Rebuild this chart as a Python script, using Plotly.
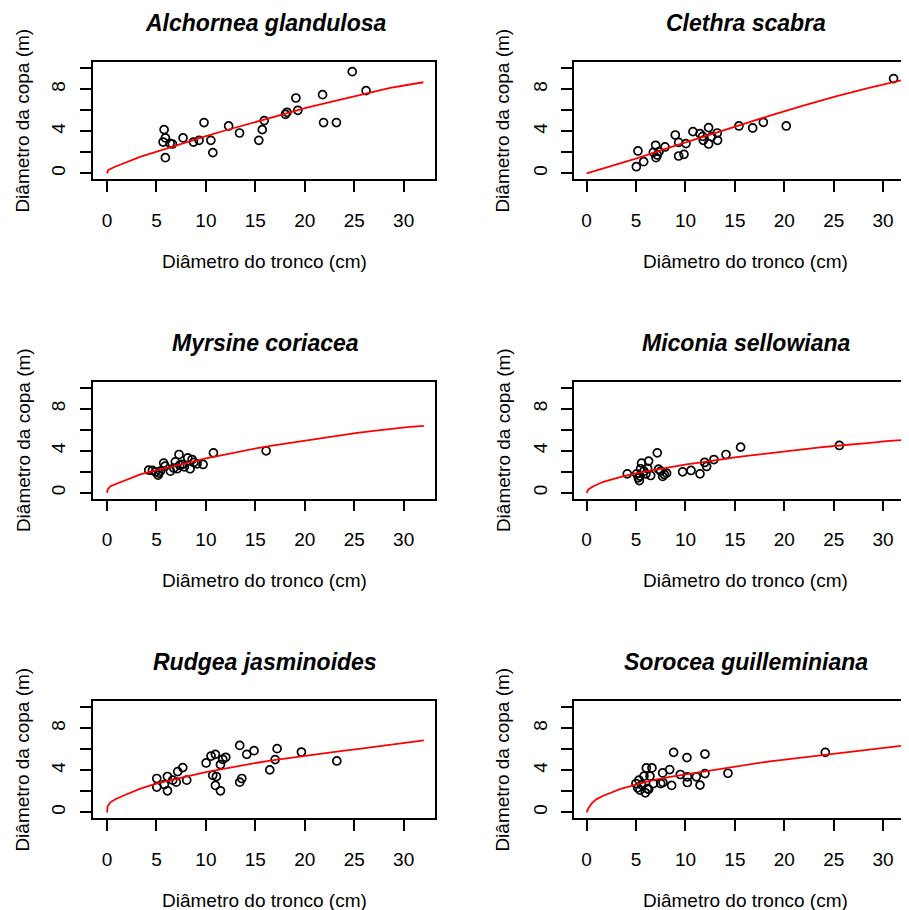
import plotly.graph_objects as go

# ---------------- data ----------------
species = ["Alchornea glandulosa", "Clethra scabra", "Myrsine coriacea",
           "Miconia sellowiana", "Rudgea jasminoides", "Sorocea guilleminiana"]

x_label = "Diâmetro do tronco (cm)"
y_label = "Diâmetro da copa (m)"

x_ticks = [0, 5, 10, 15, 20, 25, 30]
y_ticks = [0, 2, 4, 6, 8, 10]
y_ticktext = ["0", "", "4", "", "8", ""]

# Alchornea glandulosa
alch_dbh = [5.77, 5.90, 5.67, 5.90, 6.38, 6.61, 7.69, 8.74, 9.31, 9.81, 10.5, 10.7, 12.3,
            13.4, 15.35, 15.7, 15.9, 18.05, 18.2, 19.1, 19.3, 21.8, 21.9, 23.2, 24.8, 26.2]
alch_crown = [4.16, 3.37, 2.98, 1.49, 2.86, 2.79, 3.37, 2.98, 3.14, 4.83, 3.14, 1.97, 4.51,
              3.84, 3.14, 4.16, 5.02, 5.62, 5.81, 7.17, 6.0, 7.49, 4.83, 4.83, 9.68, 7.87]
alch_fit_x = [0, 0.13, 0.81, 1.65, 3.34, 5.03, 6.71, 8.40, 10.09, 11.77, 13.46, 15.15, 16.84,
              18.52, 20.21, 21.90, 23.58, 25.27, 26.96, 28.64, 30.33, 32.0]
alch_fit_y = [0, 0.32, 0.63, 0.95, 1.56, 2.06, 2.57, 3.02, 3.56, 4.03, 4.48, 4.92, 5.37,
              5.81, 6.25, 6.63, 7.02, 7.40, 7.78, 8.13, 8.41, 8.67]

# Clethra scabra
clet_dbh = [5.03, 5.19, 5.77, 6.75, 6.98, 7.02, 7.15, 7.32, 7.93, 8.97, 9.31, 9.31, 9.85, 10.05,
            10.76, 11.47, 11.74, 11.80, 12.34, 12.34, 12.65, 13.22, 13.25, 15.41, 16.80, 17.88,
            20.20, 31.06]
clet_crown = [0.63, 2.13, 1.11, 2.0, 2.67, 1.49, 1.75, 2.06, 2.51, 3.65, 2.95, 1.65, 1.81, 2.83,
              3.97, 3.78, 3.52, 3.14, 4.35, 2.79, 3.49, 3.84, 3.14, 4.51, 4.32, 4.86,
              4.51, 9.02]
clet_fit_x = [0, 1.69, 5.06, 8.43, 11.80, 15.18, 18.55, 21.92, 25.30, 28.67, 32.14]
clet_fit_y = [0, 0.48, 1.43, 2.48, 3.49, 4.51, 5.50, 6.45, 7.35, 8.15, 8.92]

# Myrsine coriacea
myrs_dbh = [4.22, 4.59, 4.89, 5.16, 5.23, 5.40, 5.73, 5.87, 6.41, 6.75, 6.91, 7.08, 7.28, 7.35,
            7.59, 7.82, 8.16, 8.40, 8.60, 8.77, 9.11, 9.71, 10.76, 16.09]
myrs_crown = [2.16, 2.13, 2.0, 1.68, 1.87, 2.06, 2.83, 2.54, 2.06, 2.35, 2.95, 2.29, 3.65, 2.63,
              2.70, 2.48, 3.33, 2.29, 3.17, 2.89, 2.76, 2.70, 3.81, 4.0]
myrs_fit_x = [0, 0.07, 0.34, 1.01, 1.69, 3.37, 5.06, 6.75, 8.43, 10.12, 11.80, 13.49, 15.18,
              16.86, 18.55, 20.24, 21.92, 23.61, 25.30, 26.98, 28.67, 30.35, 32.04]
myrs_fit_y = [0, 0.32, 0.63, 0.89, 1.17, 1.75, 2.16, 2.54, 2.95, 3.30, 3.62, 3.97, 4.25,
              4.51, 4.76, 5.02, 5.27, 5.49, 5.71, 5.90, 6.10, 6.25, 6.38]

# Miconia sellowiana
mico_dbh = [4.11, 5.06, 5.23, 5.33, 5.40, 5.46, 5.56, 5.80, 6.0, 6.17, 6.27, 6.48, 7.15, 7.28,
            7.49, 7.69, 7.86, 8.09, 9.71, 10.56, 11.47, 11.94, 12.14, 12.88, 14.10, 15.58, 25.57]
mico_crown = [1.81, 1.81, 1.43, 1.17, 1.59, 2.29, 2.83, 2.06, 1.81, 2.32, 3.02, 1.65, 3.81, 2.25,
              2.06, 1.56, 1.75, 1.87, 2.0, 2.13, 1.81, 2.89, 2.51, 3.17, 3.65, 4.35, 4.51]
mico_fit_x = [0, 0.17, 0.67, 1.69, 3.37, 5.06, 6.75, 8.43, 10.12, 11.80, 13.49, 15.18, 16.86,
              18.55, 20.24, 21.92, 23.61, 25.30, 26.98, 28.67, 30.35, 32.14]
mico_fit_y = [0, 0.32, 0.63, 1.05, 1.49, 1.87, 2.16, 2.44, 2.70, 2.92, 3.17, 3.40, 3.59,
              3.78, 4.0, 4.16, 4.32, 4.48, 4.60, 4.76, 4.92, 5.05]

# Rudgea jasminoides
rudg_dbh = [5.03, 5.03, 5.80, 6.11, 6.11, 6.64, 7.0, 7.15, 7.66, 8.06, 10.02, 10.52, 10.69, 10.96,
            11.06, 10.96, 11.47, 11.47, 11.70, 12.01, 13.42, 13.42, 13.63, 14.13, 14.87, 16.46,
            17.0, 17.2, 19.66, 23.24]
rudg_crown = [3.22, 2.40, 2.65, 3.41, 2.05, 3.06, 2.87, 3.88, 4.26, 3.06, 4.70, 5.36, 3.53, 5.52,
              3.41, 2.56, 2.05, 4.54, 5.05, 5.24, 6.37, 2.87, 3.22, 5.52, 5.87, 4.04,
              5.02, 6.06, 5.74, 4.89]
rudg_fit_x = [0, 0.07, 0.34, 0.84, 1.69, 2.5, 3.37, 5.06, 6.75, 8.43, 10.12, 11.80, 13.49,
              15.18, 16.86, 18.55, 20.24, 21.92, 23.61, 25.30, 26.98, 28.67, 30.35, 32.04]
rudg_fit_y = [0, 0.6, 0.95, 1.25, 1.6, 1.95, 2.25, 2.75, 3.15, 3.5, 3.85, 4.15, 4.45,
              4.72, 4.97, 5.2, 5.42, 5.62, 5.82, 6.02, 6.22, 6.42, 6.62, 6.85]

# Sorocea guilleminiana
soro_dbh = [4.99, 5.16, 5.29, 5.40, 5.56, 5.80, 5.94, 6.04, 6.14, 6.27, 6.41, 6.61, 6.75, 7.49,
            7.69, 7.72, 8.40, 8.60, 8.80, 9.48, 10.15, 10.19, 10.19, 11.10, 11.47, 11.97, 11.97,
            14.30, 24.15]
soro_crown = [2.74, 2.33, 3.06, 2.11, 2.62, 3.44, 1.86, 4.23, 2.27, 2.18, 3.44, 4.23, 2.74, 2.74,
              3.75, 2.84, 4.07, 2.56, 5.71, 3.60, 5.21, 3.38, 2.84, 3.38, 2.59, 5.55, 3.69,
              3.72, 5.71]
soro_fit_x = [0, 0.17, 0.51, 1.01, 1.69, 3.37, 5.06, 6.75, 8.43, 10.12, 11.80, 13.49, 15.18,
              16.86, 18.55, 20.24, 21.92, 23.61, 25.30, 26.98, 28.67, 30.35, 32.2]
soro_fit_y = [0, 0.38, 0.85, 1.26, 1.58, 2.21, 2.65, 3.06, 3.38, 3.63, 3.91, 4.16, 4.42,
              4.64, 4.86, 5.05, 5.24, 5.43, 5.62, 5.75, 5.93, 6.12, 6.37]

panels = [
    (alch_dbh, alch_crown, alch_fit_x, alch_fit_y),
    (clet_dbh, clet_crown, clet_fit_x, clet_fit_y),
    (myrs_dbh, myrs_crown, myrs_fit_x, myrs_fit_y),
    (mico_dbh, mico_crown, mico_fit_x, mico_fit_y),
    (rudg_dbh, rudg_crown, rudg_fit_x, rudg_fit_y),
    (soro_dbh, soro_crown, soro_fit_x, soro_fit_y),
]

# ---------------- layout ----------------
# The page body has an 8px default margin, so the figure is drawn at (8, 8).
OFF = 8
W, H = 909 - OFF, 910 - OFF
FONT = "Liberation Sans, Arial, sans-serif"
row_off = [0, 319.5, 639]
col_off = [0, 480]
box_top, box_bot = 62.3, 179.0
col_box = [(92.7, 435.0), (574.0, 909.0)]
col_xrange = [[-1.45, 33.17], [-1.28, 32.62]]
col_center = [265.0, 746.0]

fig = go.Figure()
layout = dict(width=W, height=H, margin=dict(l=0, r=0, t=0, b=0),
              paper_bgcolor="white", plot_bgcolor="white", showlegend=False,
              font=dict(family=FONT, size=19, color="black"))
annotations = []


def px_x(p):
    return (p - OFF) / W


def px_y(p):
    return 1 - (p - OFF) / H


for i, (xs, ys, fx, fy) in enumerate(panels):
    r, c = divmod(i, 2)
    n = i + 1
    xa = "xaxis" if n == 1 else f"xaxis{n}"
    ya = "yaxis" if n == 1 else f"yaxis{n}"
    xr = "x" if n == 1 else f"x{n}"
    yr = "y" if n == 1 else f"y{n}"
    top = box_top + row_off[r]
    bot = box_bot + row_off[r]
    x0, x1 = col_box[c]
    layout[xa] = dict(domain=[px_x(x0), min(1.0, px_x(x1))], range=col_xrange[c],
                      anchor=yr, tickvals=x_ticks, ticks="outside", ticklen=11,
                      tickwidth=1.5, tickcolor="black", showline=True, linecolor="black",
                      linewidth=1.6, mirror=True, showgrid=False, zeroline=False,
                      tickfont=dict(size=19, family=FONT), ticklabelstandoff=12)
    layout[ya] = dict(domain=[px_y(bot), px_y(top)], range=[-0.54, 10.57], anchor=xr,
                      tickvals=y_ticks, ticktext=y_ticktext, ticks="outside", ticklen=11,
                      tickwidth=1.5, tickcolor="black", showline=True, linecolor="black",
                      linewidth=1.6, mirror=(c == 0), showgrid=False, zeroline=False,
                      tickangle=-90, tickfont=dict(size=19, family=FONT),
                      ticklabelstandoff=7)
    fig.add_trace(go.Scatter(x=xs, y=ys, mode="markers", xaxis=xr, yaxis=yr,
                             marker=dict(symbol="circle-open", size=8, color="black",
                                         line=dict(width=1.7, color="black"))))
    fig.add_trace(go.Scatter(x=fx, y=fy, mode="lines", xaxis=xr, yaxis=yr,
                             line=dict(color="red", width=1.8)))
    # panel title
    annotations.append(dict(text=f"<b><i>{species[i]}</i></b>", xref="paper", yref="paper",
                            x=px_x(col_center[c]), y=px_y(23 + row_off[r]),
                            xanchor="center", yanchor="middle", showarrow=False,
                            font=dict(size=23, family=FONT, color="black")))
    # x title
    annotations.append(dict(text=x_label, xref="paper", yref="paper",
                            x=px_x(col_center[c] - 1), y=px_y(261 + row_off[r]),
                            xanchor="center", yanchor="middle", showarrow=False,
                            font=dict(size=19, family=FONT, color="black")))
    # y title
    annotations.append(dict(text=y_label, xref="paper", yref="paper",
                            x=px_x(23 + col_off[c]), y=px_y(120.6 + row_off[r]),
                            xanchor="center", yanchor="middle", showarrow=False,
                            textangle=-90,
                            font=dict(size=19, family=FONT, color="black")))

layout["annotations"] = annotations
fig.update_layout(**layout)
fig.write_html("out.html")
